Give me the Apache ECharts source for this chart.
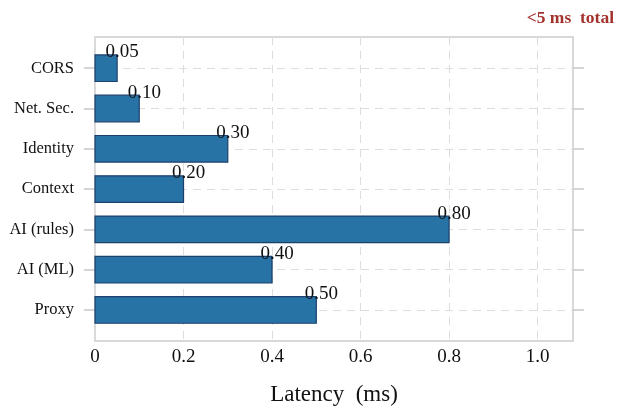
<!DOCTYPE html>
<html>
<head>
<meta charset="utf-8">
<script src="https://cdn.jsdelivr.net/npm/echarts@6/dist/echarts.min.js"></script>
<style>
html, body { margin: 0; padding: 0; background: #fff; }
#chart { width: 619px; height: 412px; }
</style>
</head>
<body>
<div id="chart"></div>
<script>
// categories bottom -> top
var categories = ['Proxy', 'AI (ML)', 'AI (rules)', 'Context', 'Identity', 'Net. Sec.', 'CORS'];
var latency = [0.50, 0.40, 0.80, 0.20, 0.30, 0.10, 0.05];
var xTicks = [0, 0.2, 0.4, 0.6, 0.8, 1.0];
var catIndex = [0, 1, 2, 3, 4, 5, 6];

var serif = '"Liberation Serif", "DejaVu Serif", serif';
var barColor = '#2873a6';
var barEdge = '#1d3f6c';

var chart = echarts.init(document.getElementById('chart'));

var seriesData = [];
for (var i = 0; i < latency.length; i++) {
	seriesData.push([latency[i], catIndex[i]]);
}

var option = {
	animation : false,
	backgroundColor : '#fff',
	title : {
		text : '<5 ms  total',
		right : 0,
		top : 4,
		textStyle : {
			fontFamily : serif,
			fontSize : 17.5,
			fontWeight : 'bold',
			color : '#a3332c'
		}
	},
	grid : {
		left : 95,
		right : 46,
		top : 37,
		bottom : 71,
		show : true,
		borderColor : '#cccccc',
		borderWidth : 1.5
	},
	xAxis : {
		type : 'value',
		min : 0,
		max : 1.08,
		name : 'Latency  (ms)',
		nameLocation : 'middle',
		nameGap : 42,
		nameTextStyle : {
			fontFamily : serif,
			fontSize : 23,
			color : '#111'
		},
		axisLine : { show : false },
		axisTick : { show : false, customValues : xTicks },
		axisLabel : {
			customValues : xTicks,
			margin : 7,
			fontFamily : serif,
			fontSize : 19,
			color : '#111',
			formatter : function(v) {
				return v === 0 ? '0' : v.toFixed(1);
			}
		},
		splitLine : {
			show : true,
			lineStyle : { color : '#dddddd', type : [8, 6], width : 1 }
		}
	},
	yAxis : [ {
		type : 'value',
		min : -0.77,
		max : 6.775,
		position : 'left',
		axisLine : { show : false },
		axisTick : {
			show : true,
			customValues : catIndex,
			length : 11,
			lineStyle : { color : '#c8c8c8', width : 1.5 }
		},
		axisLabel : {
			customValues : catIndex,
			margin : 21,
			fontFamily : serif,
			fontSize : 16.5,
			color : '#111',
			formatter : function(v) {
				return categories[Math.round(v)];
			}
		},
		splitLine : {
			show : true,
			lineStyle : { color : '#dddddd', type : [8, 6], width : 1 }
		}
	}, {
		type : 'value',
		min : -0.77,
		max : 6.775,
		position : 'right',
		axisLine : { show : false },
		axisTick : {
			show : true,
			inside : false,
			customValues : catIndex,
			length : 11,
			lineStyle : { color : '#c8c8c8', width : 1.5 }
		},
		axisLabel : { show : false },
		splitLine : { show : false }
	} ],
	series : [ {
		type : 'custom',
		yAxisIndex : 0,
		data : seriesData,
		encode : { x : 0, y : 1 },
		renderItem : function(params, api) {
			var v = api.value(0);
			var y = api.value(1);
			var start = api.coord([0, y]);
			var end = api.coord([v, y]);
			var h = api.size([0, 0.66])[1];
			return {
				type : 'group',
				children : [ {
					type : 'rect',
					shape : {
						x : start[0],
						y : start[1] - h / 2,
						width : end[0] - start[0],
						height : h
					},
					style : {
						fill : barColor,
						stroke : barEdge,
						lineWidth : 1.2
					}
				}, {
					type : 'text',
					z2 : 10,
					style : {
						text : v.toFixed(2),
						x : end[0] + 5,
						y : start[1] - h / 2 - 2.5,
						align : 'center',
						verticalAlign : 'middle',
						fontFamily : serif,
						fontSize : 19,
						fill : '#111'
					}
				} ]
			};
		}
	} ]
};

chart.setOption(option);
</script>
</body>
</html>
